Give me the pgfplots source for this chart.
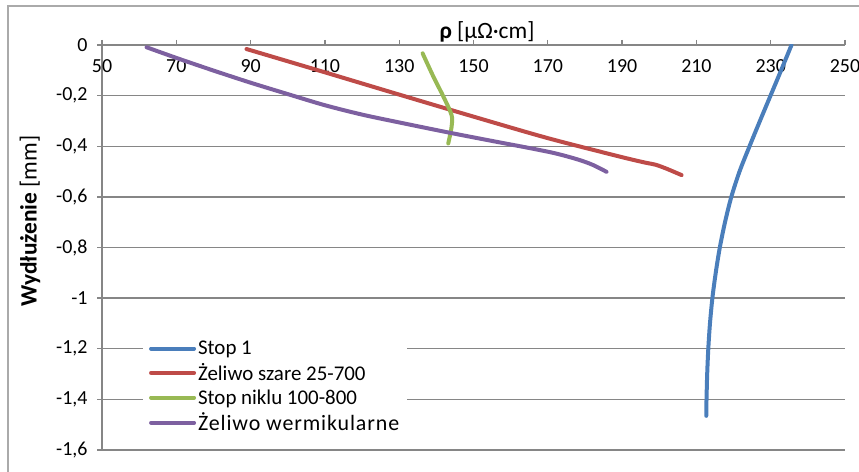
\documentclass[border=0pt]{standalone}
\usepackage{fontspec}
\setmainfont{Carlito}
\usepackage{pgfplots}
\pgfplotsset{compat=1.18}

\definecolor{sBlue}{RGB}{74,126,187}
\definecolor{sRed}{RGB}{190,75,72}
\definecolor{sGreen}{RGB}{152,185,84}
\definecolor{sPurple}{RGB}{125,96,160}
\definecolor{axGray}{RGB}{134,134,134}

\newcommand{\chartfont}{\fontsize{20}{24}\selectfont}
\newcommand{\legfont}{\fontsize{21}{25}\selectfont}
\newcommand{\titlefont}{\fontsize{23.5}{28}\selectfont}

\begin{document}
\begin{tikzpicture}[x=1bp,y=1bp]
\useasboundingbox (0,0) rectangle (859,472);
% chart frame
\draw[axGray!70, line width=1.2bp] (8,0) -- (8,466) -- (859,466);

\begin{axis}[
  at={(102bp,22bp)}, anchor=south west,
  scale only axis, width=743bp, height=405bp,
  xmin=50, xmax=250, ymin=-1.6, ymax=0,
  axis x line*=top, axis y line*=left,
  axis line style={axGray, line width=1.3bp, -},
  xtick={50,70,...,250},
  ytick={-1.6,-1.4,-1.2,-1,-0.8,-0.6,-0.4,-0.2,0},
  tick align=outside, major tick length=5bp,
  tick style={axGray, line width=1.3bp},
  ymajorgrids, grid style={axGray, line width=1.3bp},
  /pgf/number format/assume math mode=true,
  /pgf/number format/use comma,
  tick label style={font=\chartfont},
  xticklabel style={anchor=north, yshift=-16bp},
  yticklabel style={anchor=east, xshift=-6bp},
  legend style={at={(axis description cs:0.055,0.282)}, anchor=north west,
    draw=none, fill=white, font=\legfont, inner xsep=6bp, inner ysep=3bp,
    row sep=3.5bp},
  legend cell align=left,
  legend image code/.code={\draw[#1] (0bp,0bp) -- (43bp,0bp);},
  every axis plot/.append style={line width=4bp, line cap=round, line join=round, smooth},
]
\addplot[sBlue] coordinates {
  (235.6,0) (232.8,-0.1) (229.95,-0.2) (227.1,-0.3) (224.3,-0.4) (221.6,-0.5)
  (219.4,-0.6) (217.7,-0.7) (216.3,-0.8) (215.2,-0.9) (214.3,-1.0) (213.65,-1.1)
  (213.2,-1.2) (212.9,-1.3) (212.72,-1.4) (212.65,-1.465)
};
\addlegendentry{Stop 1}
\addplot[sRed] coordinates {
  (88.9,-0.016) (110,-0.108) (130,-0.196) (150,-0.283) (170,-0.368)
  (189.4,-0.441) (196,-0.464) (199,-0.473) (202,-0.489) (206,-0.514)
};
\addlegendentry{Żeliwo szare 25-700}
\addplot[sGreen] coordinates {
  (136.3,-0.033) (139.2,-0.125) (141.9,-0.204) (144.1,-0.277) (144.1,-0.323) (143.2,-0.389)
};
\addlegendentry{Stop niklu 100-800}
\addplot[sPurple] coordinates {
  (62,-0.009) (70,-0.051) (80,-0.101) (90,-0.149) (100,-0.194) (110,-0.238)
  (120,-0.275) (130,-0.306) (143.7,-0.347) (157.1,-0.385) (165,-0.407)
  (172,-0.428) (178,-0.452) (182,-0.473) (185.8,-0.501)
};
\addlegendentry{{\fontsize{22}{26}\selectfont\addfontfeature{LetterSpace=4}Żeliwo wermikularne}}
\end{axis}

% axis titles
\node[font=\titlefont] at (487,440) {\textbf{ρ} [μΩ·cm]};
\node[font=\titlefont, rotate=90] at (30,251) {\textbf{Wydłużenie} [mm]};
\end{tikzpicture}
\end{document}
